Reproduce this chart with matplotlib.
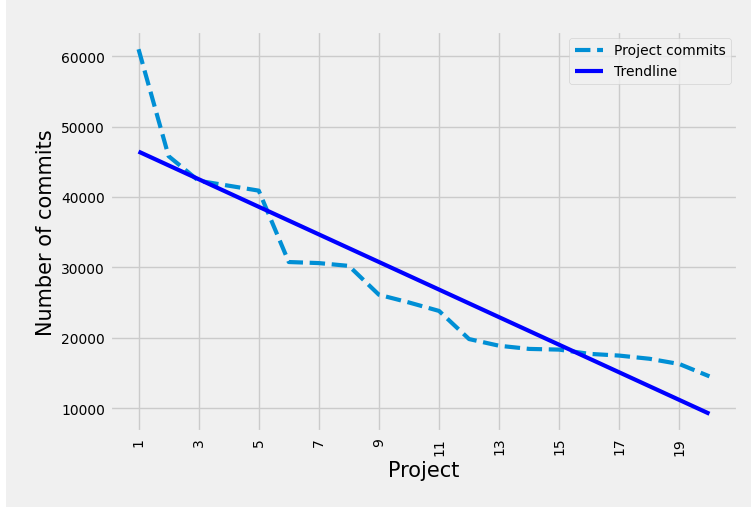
import numpy as np
import matplotlib.pyplot as plt
from matplotlib.patches import Rectangle

plt.style.use('fivethirtyeight')

# 每个项目的提交数
projects = list(range(1, 21))
commits = [61000, 45800, 42300, 41600, 40900, 30750, 30600, 30200, 26100, 25000,
           23800, 19800, 18850, 18400, 18300, 17700, 17450, 17000, 16250, 14500]
xtick_vals = list(range(1, 21, 2))

# 趋势线 (线性拟合)
coef = np.polyfit(projects, commits, 1)
trend = np.polyval(coef, projects)

fig = plt.figure(figsize=(7.51, 5.10), dpi=100)
fig.patch.set_facecolor('white')
fig.patches.append(Rectangle((6 / 751, 2 / 510), 1 - 6 / 751, 1 - 2 / 510,
                             transform=fig.transFigure, facecolor='#f0f0f0',
                             edgecolor='none', zorder=-10))
ax = fig.add_axes([110 / 751, 1 - 433 / 510, 628 / 751, 401 / 510])

ax.plot(projects, commits, '--', color='#008fd5', linewidth=3, label='Project commits')
ax.plot(projects, trend, '-', color='blue', linewidth=3, label='Trendline')

ax.set_xticks(xtick_vals)
ax.set_xticklabels([str(v) for v in xtick_vals], rotation=90, fontsize=10)
ax.tick_params(axis='y', labelsize=10)
ax.set_xlabel('Project', fontsize=15)
ax.set_ylabel('Number of commits', fontsize=15)
ax.legend(loc='upper right', fontsize=10)

fig.savefig('out.png', dpi=100, facecolor=fig.get_facecolor())
